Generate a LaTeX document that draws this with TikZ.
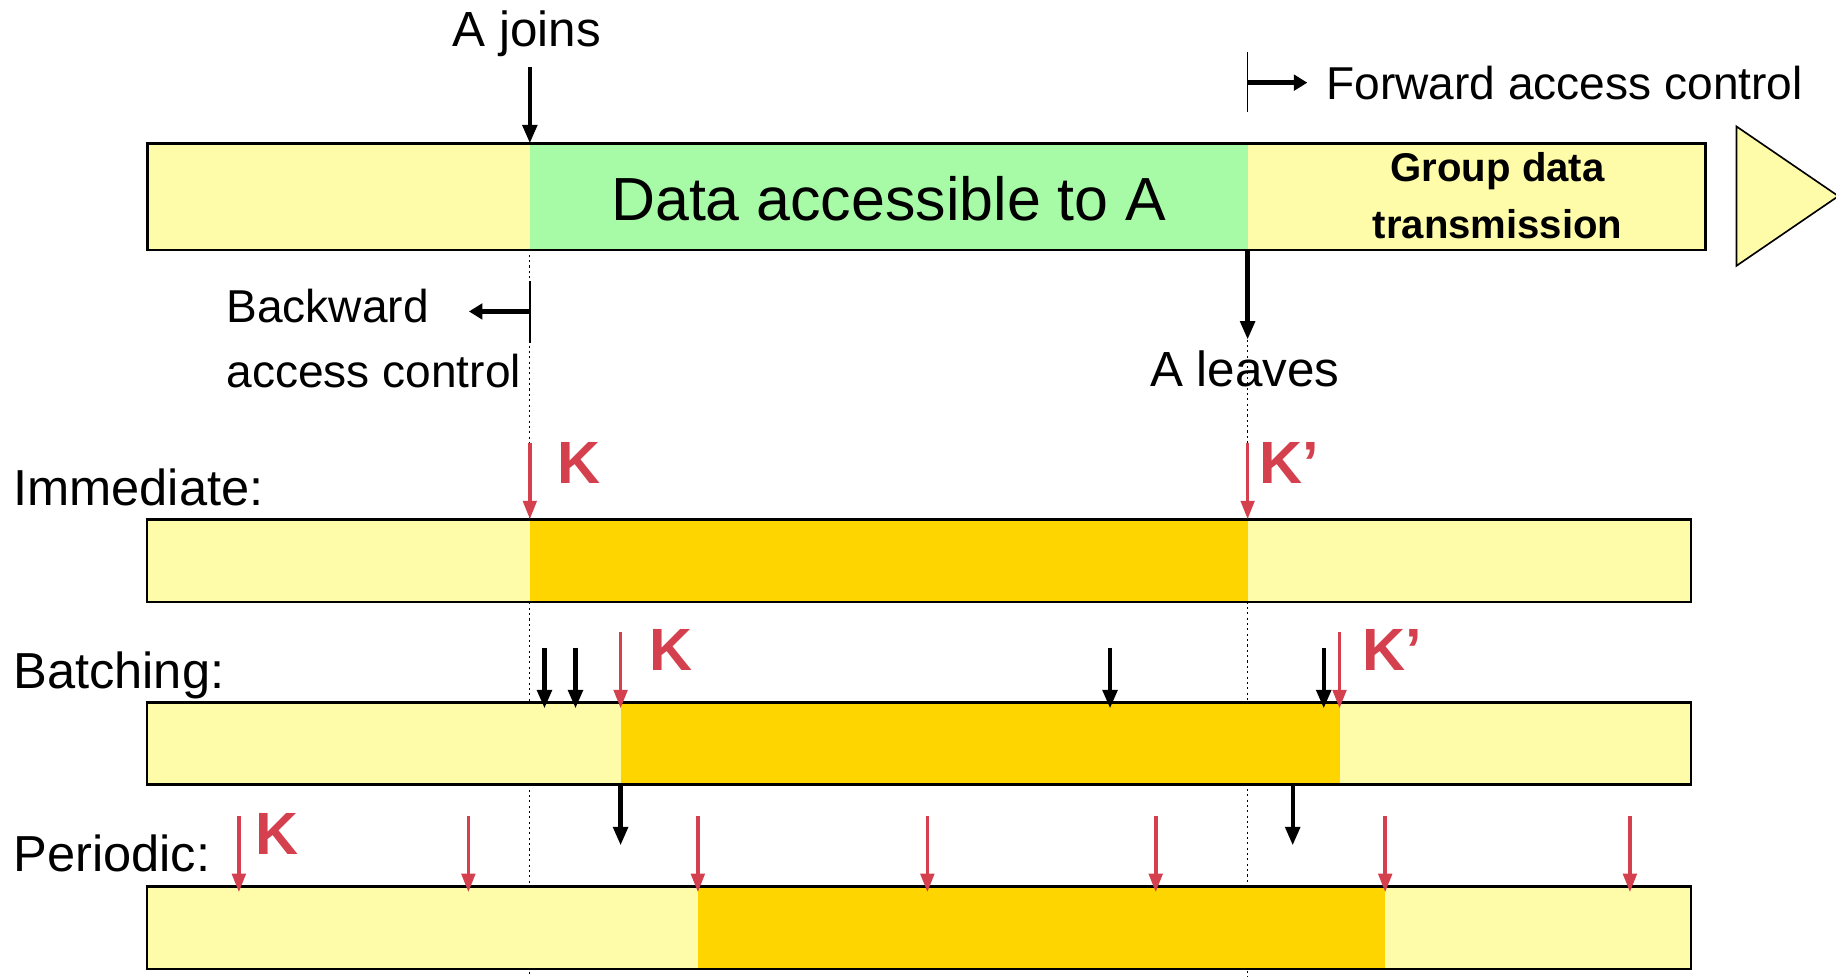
\documentclass[tikz,border=0pt]{standalone}
\usepackage{fontspec}
\setmainfont{Liberation Sans}
\usetikzlibrary{arrows.meta}

\definecolor{palebar}{RGB}{255,252,169}
\definecolor{opengreen}{RGB}{168,251,166}
\definecolor{keygold}{RGB}{255,213,0}
\definecolor{keyred}{RGB}{212,64,78}

\tikzset{
  track/.style={anchor=north west, fill=palebar, inner sep=0pt, outer sep=0pt},
  rim/.style={draw=black, line width=1.3pt},
  event/.style={line width=2.1pt, -{Triangle[length=9pt,width=7pt]}},
  push/.style={line width=2.2pt, -{Triangle[length=6.5pt,width=7.5pt]}},
  rekey/.style={draw=keyred, line width=1.8pt, -{Triangle[length=9pt,width=6.5pt]}},
  keyname/.style={anchor=base west, inner sep=0pt, text=keyred, font=\bfseries\fontsize{29}{33}\selectfont},
  say/.style={inner sep=0pt, font=\fontsize{24.6}{28}\selectfont},
  small/.style={inner sep=0pt, anchor=base west, font=\fontsize{22.4}{26}\selectfont},
  guide/.style={line width=0.6pt, dash pattern=on 1pt off 1.6pt},
  tick/.style={line width=0.8pt}
}

\begin{document}
\begin{tikzpicture}[x=0.02cm, y=-0.02cm]
\useasboundingbox (0,0) rectangle (1568,834);
\coordinate (floor) at (0,834);

% instants on the time axis
\coordinate (join) at (452.5,0);
\coordinate (leave) at (1065.5,0);

% dotted guides first, the bars cover them
\draw[guide] (join |- 0,213) -- (join |- floor);
\draw[guide] (leave |- 0,290) -- (leave |- floor);

% group data stream
\node[track, minimum width=26.62cm, minimum height=1.82cm] (main) at (126,122.4) {};
\fill[opengreen] (join |- main.north) rectangle (leave |- main.south);
\draw[rim] (main.north west) rectangle (main.south east);
\draw[line width=0.8pt, fill=palebar] (1483,108) -- (1570,167.5) -- (1483,227) -- cycle;
\node[say, anchor=base, font=\fontsize{29.6}{34}\selectfont] (acc) at (759,188.5) {Data accessible to A};
\node[inner sep=0pt, anchor=base, font=\bfseries\fontsize{19.5}{24}\selectfont] (grp) at (1279,155) {Group data};
\node[inner sep=0pt, anchor=base, font=\bfseries\fontsize{19.5}{24}\selectfont] (grp2) at (1279,204) {transmission};

% A joins
\node[say, anchor=base, font=\fontsize{24}{28}\selectfont] (joins) at (450,40) {A joins};
\draw[event, shorten <=4.6pt] (join |- joins.south) -- (join |- main.north);

% forward access control
\node[small] (fwd) at (1132.5,85.4) {Forward access control};
\draw[tick] (leave |- 0,44) -- (leave |- 0,96);
\coordinate (fwdfrom) at (leave |- 0,70.6);
\draw[push] (fwdfrom) -- ++(51,0);

% backward access control
\node[small] (bwd) at (193,275) {Backward};
\node[small] (bwd2) at (193,331) {access control};
\draw[tick] (join |- 0,240) -- (join |- 0,293);
\coordinate (bwdfrom) at (join |- 0,266);
\draw[push] (bwdfrom) -- ++(-52,0);

% A leaves
\coordinate (leavetip) at (leave |- 0,290);
\draw[event] (leave |- main.south) -- (leavetip);
\node[say, anchor=base, font=\fontsize{24}{28}\selectfont] (leaves) at (1063,330) {A leaves};

% immediate rekeying
\node[say, anchor=base west] (immlbl) at (11,431.5) {Immediate:};
\node[track, minimum width=26.38cm, minimum height=1.41cm] (imm) at (125.5,443.5) {};
\fill[keygold] (join |- imm.north) rectangle (leave |- imm.south);
\draw[rim] (imm.north west) rectangle (imm.south east);
\draw[rekey] (join |- 0,378) -- (join |- imm.north);
\draw[rekey] (leave |- 0,378) -- (leave |- imm.north);
\node[keyname] (immk) at (476,413) {K};
\node[keyname] (immk2) at (1075,413) {K’};

% batch rekeying
\node[say, anchor=base west] (batlbl) at (11,588) {Batching:};
\node[track, minimum width=26.38cm, minimum height=1.40cm] (bat) at (125.5,600) {};
\coordinate (bon) at (530,0);
\coordinate (boff) at (1144,0);
\fill[keygold] (bon |- bat.north) rectangle (boff |- bat.south);
\draw[rim] (bat.north west) rectangle (bat.south east);
\foreach \x in {465,491.5,948,1130.5}
  \draw[event] (\x,553) -- (\x,605);
\draw[rekey] (bon |- 0,540) -- (bon |- 0,605);
\draw[rekey] (boff |- 0,540) -- (boff |- 0,605);
\node[keyname] (batk) at (554,573) {K};
\node[keyname] (batk2) at (1163,573) {K’};
\draw[event] (bon |- bat.south) -- (bon |- 0,722);
\draw[event] (1104,670) -- (1104,722);

% periodic rekeying
\node[say, anchor=base west] (perlbl) at (11,744.6) {Periodic:};
\node[track, minimum width=26.38cm, minimum height=1.41cm] (per) at (125.5,757) {};
\coordinate (pon) at (596,0);
\coordinate (poff) at (1183,0);
\fill[keygold] (pon |- per.north) rectangle (poff |- per.south);
\draw[rim] (per.north west) rectangle (per.south east);
\foreach \x in {204,400,596,792,987,1183,1392}
  \draw[rekey] (\x,697) -- (\x,762);
\node[keyname] (perk) at (218,730) {K};
\end{tikzpicture}
\end{document}
